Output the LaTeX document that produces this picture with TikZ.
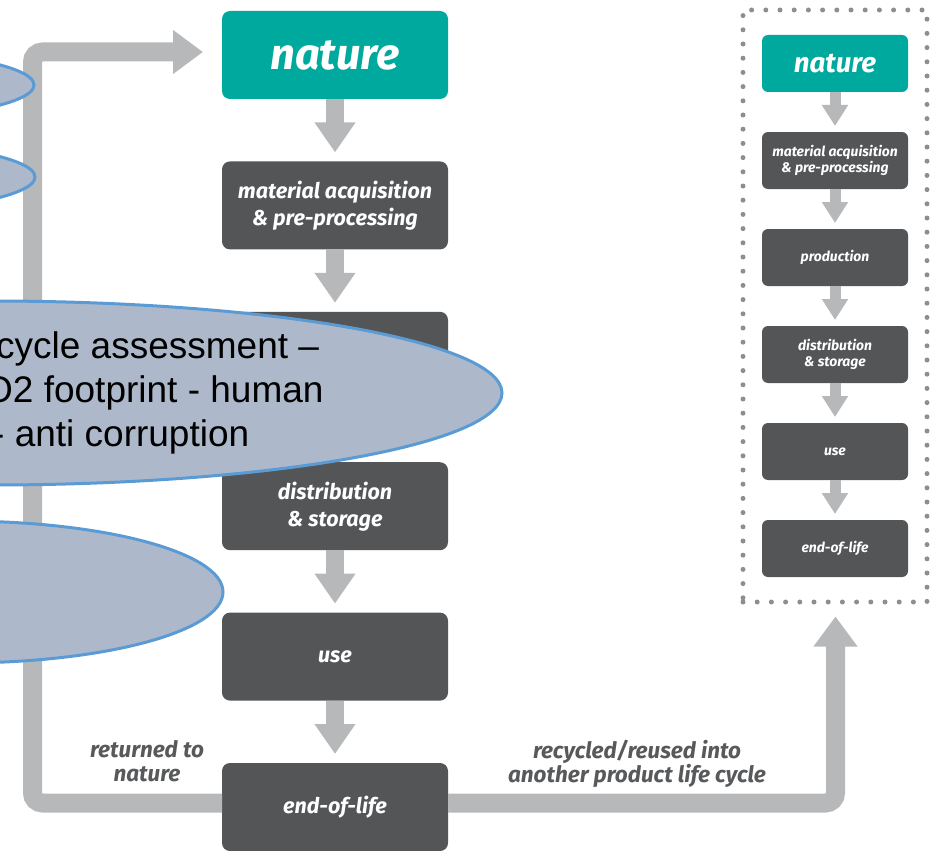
\documentclass[tikz,border=0pt]{standalone}
\usepackage{fontspec}
\newfontfamily\boxfont{Fira Sans}
\newfontfamily\notefont{Liberation Sans}
\usepackage{tikz}
\usetikzlibrary{arrows.meta,positioning,fit,shapes.geometric,calc}

\definecolor{natureteal}{RGB}{0,169,157}
\definecolor{stagegray}{RGB}{84,85,87}
\definecolor{flowgray}{RGB}{183,184,186}
\definecolor{dotgray}{RGB}{140,142,145}
\definecolor{labelgray}{RGB}{88,89,91}
\definecolor{notefill}{RGB}{173,185,202}
\definecolor{noteline}{RGB}{91,155,213}

\begin{document}
\begin{tikzpicture}[x=1pt, y=-1pt, node distance=62.4pt]
\tikzstyle{stage}=[rectangle,
                   fill=stagegray,
                   text=white,
                   minimum width=226pt,
                   minimum height=88pt,
                   inner sep=0pt, outer sep=0pt,
                   rounded corners=8pt,
                   align=center,
                   font=\boxfont\bfseries\itshape\fontsize{21.5}{27}\selectfont]
\tikzstyle{source}=[stage,
                    fill=natureteal,
                    font=\boxfont\bfseries\itshape\fontsize{43.5}{45}\selectfont]
\tikzstyle{smallstage}=[stage,
                        minimum width=146pt,
                        minimum height=57pt,
                        rounded corners=6pt,
                        font=\boxfont\bfseries\itshape\fontsize{13.9}{16}\selectfont]
\tikzstyle{smallsource}=[smallstage,
                         fill=natureteal,
                         font=\boxfont\bfseries\itshape\fontsize{27.7}{29}\selectfont]
\tikzstyle{flow}=[line width=18pt, color=flowgray,
                  -{Triangle[width=39pt,length=30pt]}, shorten >=9pt]
\tikzstyle{smallflow}=[line width=11pt, color=flowgray,
                       -{Triangle[width=25pt,length=21pt]}, shorten >=6pt]
\tikzstyle{loopflow}=[line width=19pt, color=flowgray, rounded corners=10pt,
                      -{Triangle[width=42pt,length=30pt]}]
\tikzstyle{model}=[rectangle,
                   draw=dotgray,
                   line width=5pt, line cap=round,
                   dash pattern=on 0pt off 14.2pt,
                   inner xsep=19pt, inner ysep=25pt]
\tikzstyle{sidelabel}=[text=labelgray, align=center,
                       font=\boxfont\bfseries\itshape\fontsize{22.5}{24}\selectfont]
\tikzstyle{note}=[ellipse,
                  fill=notefill,
                  draw=noteline,
                  line width=3pt,
                  inner sep=0pt]
\tikzstyle{notetext}=[text=black, align=left, inner sep=0pt,
                      font=\notefont\fontsize{37}{44}\selectfont]

\clip (0,0) rectangle (935,851);

\node[source] (nature) at (335,55) {nature};
\node[stage, below=of nature] (material) {material acquisition\\\& pre-processing};
\node[stage, below=of material] (production) {};
\node[stage, below=of production] (distribution) {distribution\\\& storage};
\node[stage, below=of distribution] (use) {use};
\node[stage, below=of use] (eol) {end-of-life};

\node[smallsource] (snature) at (835,63.5) {nature};
\node[smallstage, below=40pt of snature] (smaterial) {material acquisition\\\& pre-processing};
\node[smallstage, below=40pt of smaterial] (sproduction) {production};
\node[smallstage, below=40pt of sproduction] (sdistribution) {distribution\\\& storage};
\node[smallstage, below=40pt of sdistribution] (suse) {use};
\node[smallstage, below=40pt of suse] (seol) {end-of-life};
\node[model, fit=(snature) (seol)] (smodel) {};

\node[sidelabel] (returned) at (147,761) {returned to\\nature};
\node[sidelabel] (recycled) at (637,764) {recycled/reused into\\another product life cycle};

\coordinate (lb) at (32.5,803);
\coordinate (lt) at (32.5,52);
\coordinate (rb) at (835.5,803);

\path[flow]
(nature) edge (material)
(material) edge (production)
(production) edge (distribution)
(distribution) edge (use)
(use) edge (eol);

\path[smallflow]
(snature) edge (smaterial)
(smaterial) edge (sproduction)
(sproduction) edge (sdistribution)
(sdistribution) edge (suse)
(suse) edge (seol);

\draw[loopflow, shorten >=19pt]
([yshift=4pt]eol.west) -- (lb) -- (lt) -- (nature.west |- lt);
\draw[loopflow, shorten >=12pt]
([yshift=4pt]eol.east) -- (rb) -- (rb |- smodel.south);

\node[note, minimum width=400pt, minimum height=72pt] (note1) at (-166,85) {};
\node[note, minimum width=400pt, minimum height=72pt] (note2) at (-165,177) {};
\node[note, minimum width=1024pt, minimum height=184pt] (note3) at (-10,393) {};
\node[note, minimum width=526pt, minimum height=142pt] (note4) at (-40,592) {};
\node[notetext, anchor=west] (lca) at ([xshift=6pt]note3.center)
  {cycle assessment –\\\hspace*{-12pt}O2 footprint - human\\\hspace*{-4pt}- anti corruption};
\end{tikzpicture}
\end{document}
